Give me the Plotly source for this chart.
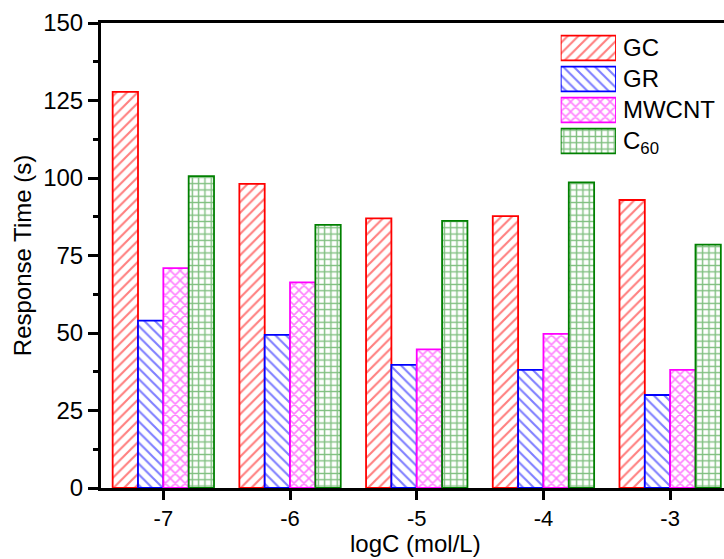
import plotly.graph_objects as go

# Response time at each concentration, per electrode material
log_c = [-7, -6, -5, -4, -3]
gc = [127.8, 98.1, 87.0, 87.7, 92.9]
gr = [54.0, 49.4, 39.7, 38.1, 30.0]
mwcnt = [70.9, 66.3, 44.7, 49.7, 38.1]
c60 = [100.6, 84.9, 86.2, 98.6, 78.5]

series_names = ["GC", "GR", "MWCNT", "C<sub>60</sub>"]
series_values = [gc, gr, mwcnt, c60]
series_colors = ["#FF0000", "#0000FF", "#FF00FF", "#008000"]
series_shapes = ["/", "\\", "x", "+"]
series_sizes = [7.5, 7.5, 7, 6.3]
series_solidity = [0.28, 0.28, 0.4, 0.4]

y_ticks = [0, 25, 50, 75, 100, 125, 150]
x_ticktext = [str(v) for v in log_c]

FONT = "Liberation Sans, Arial, sans-serif"


def bar_marker(col, shp, sz, sol):
    return dict(
        color="white",
        line=dict(color=col, width=1.8),
        pattern=dict(shape=shp, fgcolor=col, bgcolor="white",
                     size=sz, solidity=sol, fillmode="overlay"),
    )


fig = go.Figure()
for name, vals, col, shp, sz, sol in zip(series_names, series_values, series_colors,
                                           series_shapes, series_sizes, series_solidity):
    fig.add_trace(go.Bar(
        x=log_c, y=vals, name=name, showlegend=False,
        marker=bar_marker(col, shp, sz, sol),
    ))

# Key: one large patterned swatch per material, on its own small axis pair
for name, col, shp, sz, sol in zip(series_names, series_colors,
                                     series_shapes, series_sizes, series_solidity):
    fig.add_trace(go.Bar(
        x=[1], y=[name], orientation="h", name=name, showlegend=False,
        xaxis="x2", yaxis="y2", hoverinfo="skip",
        marker=bar_marker(col, shp, sz, sol),
    ))

fig.update_layout(
    width=724, height=559,
    margin=dict(l=101, r=0, t=23, b=71),
    paper_bgcolor="white", plot_bgcolor="white",
    barmode="group", bargap=0.2, bargroupgap=0,
    font=dict(family=FONT, size=24, color="black"),
    showlegend=False,
    xaxis=dict(
        range=[-7.492, -2.575],
        tickvals=log_c, ticktext=x_ticktext,
        showline=True, linecolor="black", linewidth=3, mirror=True,
        ticks="outside", ticklen=9, tickwidth=2.5, tickcolor="black",
        showgrid=False, zeroline=False,
        tickfont=dict(size=22, family=FONT),
    ),
    yaxis=dict(
        range=[0, 150],
        tickvals=y_ticks,
        showline=True, linecolor="black", linewidth=3, mirror=False,
        ticks="outside", ticklen=10, tickwidth=2.5, tickcolor="black",
        minor=dict(ticks="outside", ticklen=5, tickwidth=2.5, tickcolor="black",
                   tickvals=[12.5, 37.5, 62.5, 87.5, 112.5, 137.5]),
        showgrid=False, zeroline=False,
        tickfont=dict(size=24, family=FONT),
        title=dict(text="Response Time (s)", font=dict(size=24, family=FONT), standoff=5),
    ),
    xaxis2=dict(domain=[0.7379, 0.8266], anchor="y2", range=[0, 1],
                visible=False, fixedrange=True),
    yaxis2=dict(domain=[0.7129, 0.9796], anchor="x2", side="right",
                categoryorder="array", categoryarray=series_names,
                autorange="reversed", showline=False, showgrid=False,
                zeroline=False, ticks="", ticklabelstandoff=6,
                tickfont=dict(size=24, family=FONT), fixedrange=True),
    annotations=[dict(
        text="logC (mol/L)", xref="paper", yref="paper",
        x=0.505, y=-0.1204, xanchor="center", yanchor="middle",
        showarrow=False, font=dict(size=24, family=FONT),
    )],
)

fig.write_html("out.html")
